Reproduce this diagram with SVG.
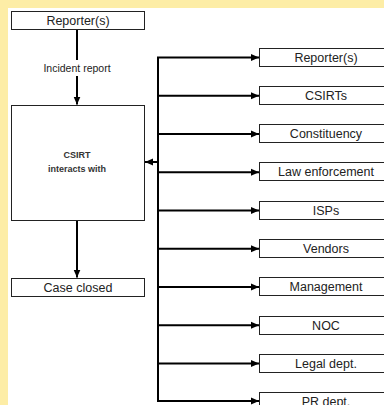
<svg xmlns="http://www.w3.org/2000/svg" width="384" height="405" viewBox="0 0 384 405">
<style>
.box{fill:#fff;stroke:#222;stroke-width:1}
.lbl{font-family:"Liberation Sans",Arial,sans-serif;font-size:12.5px;fill:#222;text-anchor:middle}
.small{font-family:"Liberation Sans",Arial,sans-serif;font-size:9px;font-weight:bold;fill:#333;text-anchor:middle}
.edge{font-family:"Liberation Sans",Arial,sans-serif;font-size:10.5px;fill:#222;text-anchor:middle}
.con{stroke:#000;stroke-width:2;fill:none}
</style>
<defs>
<marker id="ah" viewBox="0 0 8 8" refX="8" refY="4" markerWidth="8" markerHeight="8" markerUnits="userSpaceOnUse" orient="auto">
<path d="M0,0.5 L8,4 L0,7.5 Z" fill="#000"/>
</marker>
</defs>
<rect x="0" y="0" width="384" height="405" fill="#FDEDA6"/>
<rect x="8" y="8" width="376" height="397" fill="#fff"/>
<g id="connectors">
<line class="con" x1="77" y1="29" x2="77" y2="60"/>
<line class="con" x1="77" y1="76" x2="77" y2="104.5" marker-end="url(#ah)"/>
<text class="edge" x="77" y="72">Incident report</text>
<line class="con" x1="77" y1="221" x2="77" y2="277.5" marker-end="url(#ah)"/>
<line class="con" x1="158" y1="57" x2="158" y2="402"/>
<line class="con" x1="158" y1="162" x2="145" y2="162" marker-end="url(#ah)"/>
<line class="con" x1="157" y1="57.5" x2="259" y2="57.5" marker-end="url(#ah)"/>
<line class="con" x1="157" y1="95.75" x2="259" y2="95.75" marker-end="url(#ah)"/>
<line class="con" x1="157" y1="134" x2="259" y2="134" marker-end="url(#ah)"/>
<line class="con" x1="157" y1="172.25" x2="259" y2="172.25" marker-end="url(#ah)"/>
<line class="con" x1="157" y1="210.5" x2="259" y2="210.5" marker-end="url(#ah)"/>
<line class="con" x1="157" y1="248.75" x2="259" y2="248.75" marker-end="url(#ah)"/>
<line class="con" x1="157" y1="287" x2="259" y2="287" marker-end="url(#ah)"/>
<line class="con" x1="157" y1="325.25" x2="259" y2="325.25" marker-end="url(#ah)"/>
<line class="con" x1="157" y1="363.5" x2="259" y2="363.5" marker-end="url(#ah)"/>
<line class="con" x1="157" y1="401" x2="259" y2="401" marker-end="url(#ah)"/>
</g>
<g id="reporter"><rect class="box" x="11.5" y="11.5" width="133" height="18"/><text class="lbl" x="78" y="25">Reporter(s)</text></g>
<g id="csirt"><rect class="box" x="11.5" y="105.5" width="133" height="115"/><text class="small" x="77" y="158">CSIRT</text><text class="small" x="77" y="172">interacts with</text></g>
<g id="closed"><rect class="box" x="11.5" y="278.5" width="133" height="18"/><text class="lbl" x="78" y="292">Case closed</text></g>
<g id="r1"><rect class="box" x="259.5" y="48.5" width="133" height="18"/><text class="lbl" x="326" y="62">Reporter(s)</text></g>
<g id="r2"><rect class="box" x="259.5" y="86.5" width="133" height="18"/><text class="lbl" x="326" y="100">CSIRTs</text></g>
<g id="r3"><rect class="box" x="259.5" y="124.5" width="133" height="18"/><text class="lbl" x="326" y="138">Constituency</text></g>
<g id="r4"><rect class="box" x="259.5" y="162.5" width="133" height="18"/><text class="lbl" x="326" y="176">Law enforcement</text></g>
<g id="r5"><rect class="box" x="259.5" y="201.5" width="133" height="18"/><text class="lbl" x="326" y="215">ISPs</text></g>
<g id="r6"><rect class="box" x="259.5" y="239.5" width="133" height="18"/><text class="lbl" x="326" y="253">Vendors</text></g>
<g id="r7"><rect class="box" x="259.5" y="277.5" width="133" height="18"/><text class="lbl" x="326" y="291">Management</text></g>
<g id="r8"><rect class="box" x="259.5" y="316.5" width="133" height="18"/><text class="lbl" x="326" y="330">NOC</text></g>
<g id="r9"><rect class="box" x="259.5" y="354.5" width="133" height="18"/><text class="lbl" x="326" y="368">Legal dept.</text></g>
<g id="r10"><rect class="box" x="259.5" y="392.5" width="133" height="18"/><text class="lbl" x="326" y="406">PR dept.</text></g>
</svg>
